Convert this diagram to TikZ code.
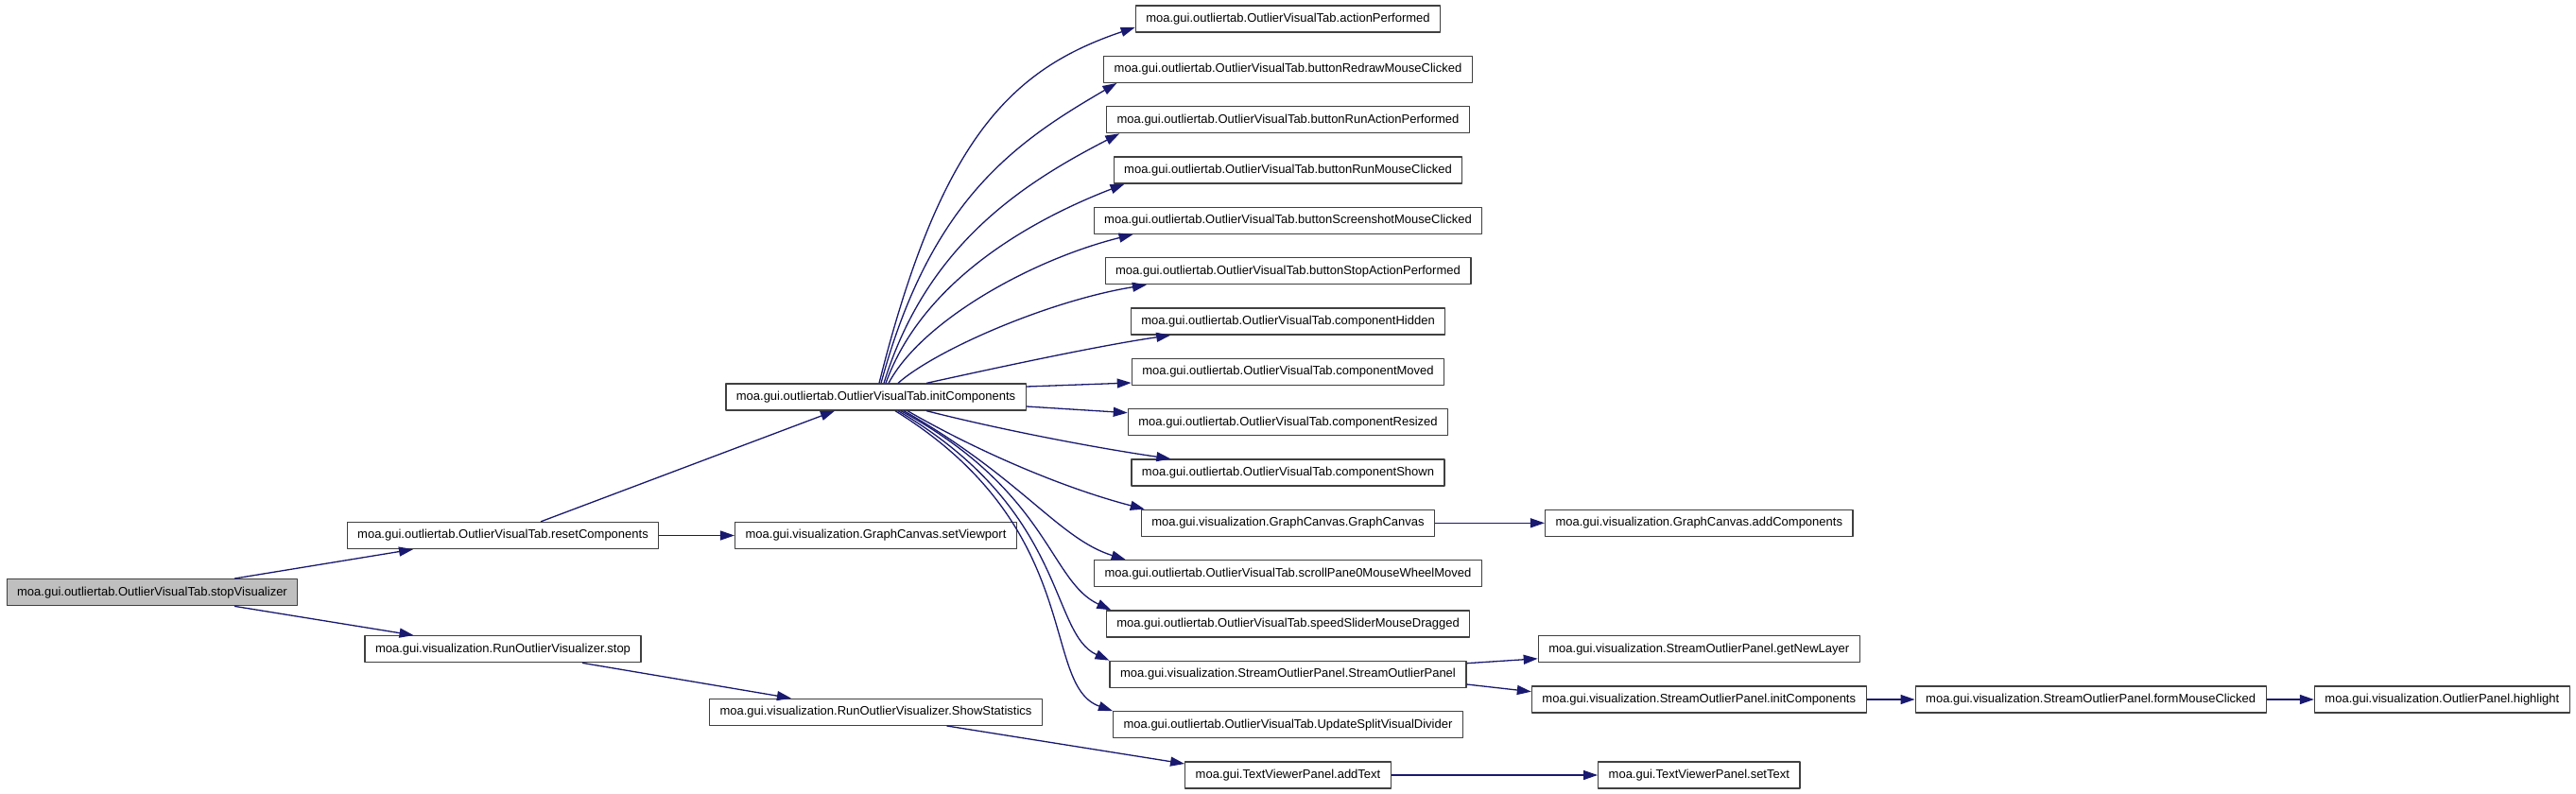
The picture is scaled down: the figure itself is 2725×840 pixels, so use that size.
\documentclass[tikz,border=0pt]{standalone}
\usepackage{fontspec}
\setmainfont{Liberation Sans}
\definecolor{calledge}{HTML}{191970}
\definecolor{boxline}{HTML}{404040}
\definecolor{rootfill}{HTML}{BFBFBF}
\usetikzlibrary{arrows.meta}

\begin{document}
\begin{tikzpicture}[
  x=1pt,
  y=-1pt,
  line join=round,
  fn/.style={rectangle,draw=boxline,line width=1.3pt,fill=white,minimum height=28pt,inner xsep=11pt,inner ysep=0pt,font=\fontsize{13}{15}\selectfont,text=black},
  rootfn/.style={fn,fill=rootfill},
  call/.style={draw=calledge,line width=1.3pt,-{Triangle[length=15pt,width=10pt]}}
]
  \useasboundingbox (0,0) rectangle (2725,840);

  % callers on the left
  \node[rootfn] (stopvis) at (161,626.7) {moa.gui.outliertab.OutlierVisualTab.stopVisualizer};
  \node[fn] (resetcomp) at (532,566.5) {moa.gui.outliertab.OutlierVisualTab.resetComponents};
  \node[fn] (runstop) at (532,686.7) {moa.gui.visualization.RunOutlierVisualizer.stop};
  \node[fn] (initcomp) at (926.5,420) {moa.gui.outliertab.OutlierVisualTab.initComponents};
  \node[fn] (setviewport) at (926.5,566.5) {moa.gui.visualization.GraphCanvas.setViewport};
  \node[fn] (showstats) at (926.5,753.3) {moa.gui.visualization.RunOutlierVisualizer.ShowStatistics};

  % callees of initComponents, one row every 53.33
  \node[fn] (actperf) at (1362.5,20) {moa.gui.outliertab.OutlierVisualTab.actionPerformed};
  \node[fn] (redrawclick) at (1362.5,73.3) {moa.gui.outliertab.OutlierVisualTab.buttonRedrawMouseClicked};
  \node[fn] (runaction) at (1362.5,126.7) {moa.gui.outliertab.OutlierVisualTab.buttonRunActionPerformed};
  \node[fn] (runclick) at (1362.5,180) {moa.gui.outliertab.OutlierVisualTab.buttonRunMouseClicked};
  \node[fn] (shotclick) at (1362.5,233.3) {moa.gui.outliertab.OutlierVisualTab.buttonScreenshotMouseClicked};
  \node[fn] (stopaction) at (1362.5,286.7) {moa.gui.outliertab.OutlierVisualTab.buttonStopActionPerformed};
  \node[fn] (hidden) at (1362.5,340) {moa.gui.outliertab.OutlierVisualTab.componentHidden};
  \node[fn] (moved) at (1362.5,393.3) {moa.gui.outliertab.OutlierVisualTab.componentMoved};
  \node[fn] (resized) at (1362.5,446.7) {moa.gui.outliertab.OutlierVisualTab.componentResized};
  \node[fn] (shown) at (1362.5,500) {moa.gui.outliertab.OutlierVisualTab.componentShown};
  \node[fn] (graphcanvas) at (1362.5,553.3) {moa.gui.visualization.GraphCanvas.GraphCanvas};
  \node[fn] (wheelmoved) at (1362.5,606.7) {moa.gui.outliertab.OutlierVisualTab.scrollPane0MouseWheelMoved};
  \node[fn] (sliderdrag) at (1362.5,660) {moa.gui.outliertab.OutlierVisualTab.speedSliderMouseDragged};
  \node[fn] (sopanel) at (1362.5,713.3) {moa.gui.visualization.StreamOutlierPanel.StreamOutlierPanel};
  \node[fn] (splitdiv) at (1362.5,766.7) {moa.gui.outliertab.OutlierVisualTab.UpdateSplitVisualDivider};
  \node[fn] (addtext) at (1362.5,820) {moa.gui.TextViewerPanel.addText};

  % right part
  \node[fn] (addcomp) at (1797.3,553.3) {moa.gui.visualization.GraphCanvas.addComponents};
  \node[fn] (newlayer) at (1797.3,686.8) {moa.gui.visualization.StreamOutlierPanel.getNewLayer};
  \node[fn] (sopinit) at (1797.3,740) {moa.gui.visualization.StreamOutlierPanel.initComponents};
  \node[fn] (settext) at (1797.3,820) {moa.gui.TextViewerPanel.setText};
  \node[fn] (formclick) at (2211.7,740) {moa.gui.visualization.StreamOutlierPanel.formMouseClicked};
  \node[fn] (highlight) at (2583.4,740) {moa.gui.visualization.OutlierPanel.highlight};

  % straight calls
  \draw[call] ([xshift=87pt]stopvis.north) -- ([xshift=-95pt]resetcomp.south);
  \draw[call] ([xshift=87pt]stopvis.south) -- ([xshift=-94.5pt]runstop.north);
  \draw[call] ([xshift=40pt]resetcomp.north) -- ([xshift=-43.5pt]initcomp.south);
  \draw[call] (resetcomp) -- (setviewport);
  \draw[call] ([xshift=84pt]runstop.south) -- ([xshift=-89.6pt]showstats.north);
  \draw[call] ([xshift=75pt]showstats.south) -- ([yshift=12pt]addtext.west);
  \draw[call] (addtext) -- (settext);
  \draw[call] (graphcanvas) -- (addcomp);
  \draw[call] ([yshift=11.6pt]sopanel.east) -- ([yshift=-10pt]newlayer.west);
  \draw[call] ([yshift=-10.7pt]sopanel.east) -- ([yshift=8.3pt]sopinit.west);
  \draw[call] (sopinit) -- (formclick);
  \draw[call] (formclick) -- (highlight);

  % fan out of initComponents, upper half
  \draw[call] ([xshift=3.5pt]initcomp.north) .. controls (995,146) and (1070,73) .. ([yshift=5.7pt]actperf.south west);
  \draw[call] ([xshift=5.5pt]initcomp.north) .. controls (985,210) and (1075,150) .. ([xshift=14.3pt]redrawclick.south west);
  \draw[call] ([xshift=8.5pt]initcomp.north) .. controls (980,260) and (1080,195) .. ([xshift=14.3pt]runaction.south west);
  \draw[call] ([xshift=10.5pt]initcomp.north) .. controls (975,300) and (1085,235) .. ([xshift=12pt]runclick.south west);
  \draw[call] ([xshift=13.5pt]initcomp.north) .. controls (975,340) and (1090,275) .. ([xshift=42pt]shotclick.south west);
  \draw[call] ([xshift=23.5pt]initcomp.north) .. controls (990,370) and (1110,318) .. ([xshift=44.4pt]stopaction.south west);
  \draw[call] ([xshift=53.5pt]initcomp.north) .. controls (1050,390) and (1160,366) .. ([xshift=42.6pt]hidden.south west);
  \draw[call] ([yshift=11pt]initcomp.east) -- ([yshift=-11.7pt]moved.west);
  \draw[call] ([yshift=-10pt]initcomp.east) -- ([yshift=10pt]resized.west);

  % fan out of initComponents, lower half
  \draw[call] ([xshift=53.5pt]initcomp.south) .. controls (1060,455) and (1160,474) .. ([xshift=42pt]shown.north west);
  \draw[call] ([xshift=33.5pt]initcomp.south) .. controls (1030,475) and (1120,515) .. ([xshift=4pt]graphcanvas.north west);
  \draw[call] ([xshift=29.5pt]initcomp.south) .. controls (1080,505) and (1120,570) .. ([xshift=33.7pt]wheelmoved.north west);
  \draw[call] ([xshift=26.5pt]initcomp.south) .. controls (1110,520) and (1110,615) .. ([xshift=5.7pt]sliderdrag.north west);
  \draw[call] ([xshift=23.5pt]initcomp.south) .. controls (1130,540) and (1110,670) .. (sopanel.north west);
  \draw[call] ([xshift=20.5pt]initcomp.south) .. controls (1150,560) and (1100,725) .. (splitdiv.north west);
\end{tikzpicture}
\end{document}
